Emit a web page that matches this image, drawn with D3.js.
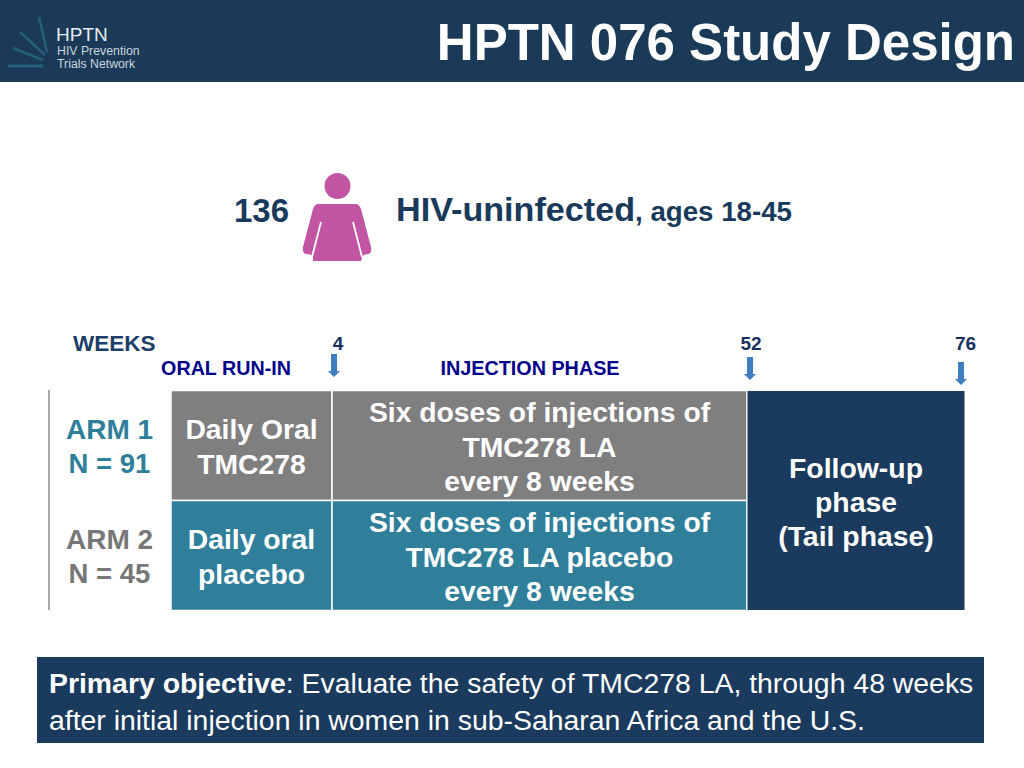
<!DOCTYPE html>
<html>
<head>
<style>
  html, body { margin: 0; padding: 0; background: #fff; }
  svg { display: block; }
  text { font-family: "Liberation Sans", Arial, sans-serif; }
</style>
<script src="https://d3js.org/d3.v7.min.js"></script>
</head>
<body>
<svg id="chart" width="1024" height="768"></svg>
<script>
// study design data
const title = "HPTN 076 Study Design";
const logoLines = ["HIV Prevention", "Trials Network"];
const weekTicks = [4, 52, 76];
const phaseStarts = [0, 4, 52];
const phaseEnds = [4, 52, 76];
const arms = ["ARM 1", "ARM 2"];
const armCounts = ["N = 91", "N = 45"];
const runInText = [["Daily Oral", "TMC278"], ["Daily oral", "placebo"]];
const injectionText = [
  ["Six doses of injections of", "TMC278 LA", "every 8 weeks"],
  ["Six doses of injections of", "TMC278 LA placebo", "every 8 weeks"]
];
const tailText = ["Follow-up", "phase", "(Tail phase)"];

const navy = "#1a3a5c";
const teal = "#2f7f9b";
const grey = "#7f7f7f";
const svg = d3.select("#chart");

// weeks are not to scale on the slide so the axis is piecewise
const weekScale = d3.scaleLinear().domain([0, 4, 52, 76]).range([171, 332, 747, 965]);
const armScale = d3.scaleBand().domain(arms).range([390.5, 610.5]);

function lines(g, arr, x, y, lh, size, fill, weight) {
  g.selectAll(null).data(arr).enter().append("text")
    .attr("x", x).attr("y", (d, i) => y + i * lh)
    .attr("text-anchor", "middle")
    .attr("font-size", size).attr("font-weight", weight || "bold")
    .attr("fill", fill).text(d => d);
}

// header
svg.append("rect").attr("width", 1024).attr("height", 82).attr("fill", "#1b3a57");
svg.append("text").attr("x", 1015).attr("y", 60).attr("text-anchor", "end")
  .attr("font-size", 51).attr("font-weight", "bold").attr("fill", "#fff").text(title);

// logo
const logo = svg.append("g");
[[39, 17, 47, 52, 2.5], [20, 32, 45, 55, 2.5], [13, 48, 43, 60, 2.5], [8, 66, 43, 66, 3]].forEach(r => {
  logo.append("line").attr("x1", r[0]).attr("y1", r[1]).attr("x2", r[2]).attr("y2", r[3])
    .attr("stroke", "#2b7a93").attr("stroke-width", r[4]).attr("opacity", 0.6);
});
logo.append("text").attr("x", 56).attr("y", 41).attr("font-size", 19).attr("fill", "#e4edf2")
  .attr("font-family", "Lato").text("HPTN");
logo.selectAll(null).data(logoLines).enter().append("text")
  .attr("x", 57).attr("y", (d, i) => 55 + i * 13)
  .attr("font-size", 12.3).attr("font-family", "Lato").attr("fill", "#c9d6de").text(d => d);

// 136 women line
svg.append("text").attr("x", 234).attr("y", 222).attr("font-size", 33).attr("font-weight", "bold")
  .attr("fill", navy).text("136");
const person = svg.append("g").attr("fill", "#c254a4");
person.append("circle").attr("cx", 337.5).attr("cy", 186).attr("r", 13);
person.append("path").attr("d",
  "M318,204 Q315,204 313,209 L303,247 Q302,254 307,254 Q311,254 313,257 L313,261 " +
  "L361,261 L362,257 Q364,254 368,254 Q372,254 371,247 L361,209 Q359,204 356,204 Z");
// white slits between arms and body
person.append("path").attr("fill", "none").attr("stroke", "#fff").attr("stroke-width", 1.8)
  .attr("d", "M321,222 L312,257 M353,222 L362,257");
const hiv = svg.append("text").attr("x", 396).attr("y", 221).attr("fill", navy).attr("font-weight", "bold");
hiv.append("tspan").attr("font-size", 34).attr("textLength", 239).attr("lengthAdjust", "spacingAndGlyphs").text("HIV-uninfected");
hiv.append("tspan").attr("font-size", 27).attr("x", 635).attr("textLength", 157).attr("lengthAdjust", "spacingAndGlyphs").text(", ages 18-45");

// week labels and arrows
svg.append("text").attr("x", 73).attr("y", 351).attr("font-size", 22.5).attr("font-weight", "bold")
  .attr("fill", "#1b3f66").text("WEEKS");
const tickX = { 4: 338, 52: 751, 76: 965.5 };
const arrowX = { 4: 334, 52: 750, 76: 961 };
const arrowTop = { 4: 354, 52: 357, 76: 362 };
weekTicks.forEach(w => {
  svg.append("text").attr("x", tickX[w]).attr("y", 350).attr("text-anchor", "middle")
    .attr("font-size", 19).attr("font-weight", "bold").attr("fill", "#16305f").text(w);
  const a = arrowX[w], t = arrowTop[w];
  svg.append("path").attr("fill", "#3f7fc0")
    .attr("d", `M${a - 3},${t} h6 v17 h3 l-6,6 l-6,-6 h3 Z`);
});
svg.append("text").attr("x", 226).attr("y", 375).attr("text-anchor", "middle")
  .attr("font-size", 19.7).attr("font-weight", "bold").attr("fill", "#00008b").text("ORAL RUN-IN");
svg.append("text").attr("x", 530).attr("y", 375).attr("text-anchor", "middle")
  .attr("font-size", 19.8).attr("font-weight", "bold").attr("fill", "#00008b").text("INJECTION PHASE");

// left rule
svg.append("line").attr("x1", 49).attr("x2", 49).attr("y1", 390).attr("y2", 610)
  .attr("stroke", "#a6a6a6").attr("stroke-width", 2);

// arm labels
arms.forEach((arm, i) => {
  const top = armScale(arm);
  const col = i === 0 ? teal : "#777";
  svg.append("text").attr("x", 109.5).attr("y", top + 48).attr("text-anchor", "middle")
    .attr("font-size", 28).attr("font-weight", "bold").attr("fill", col).text(arm);
  svg.append("text").attr("x", 109.5).attr("y", top + 82).attr("text-anchor", "middle")
    .attr("font-size", 27.5).attr("font-weight", "bold").attr("fill", col).text(armCounts[i]);

  // run-in and injection boxes
  [0, 1].forEach(p => {
    svg.append("rect")
      .attr("x", weekScale(phaseStarts[p]))
      .attr("y", top)
      .attr("width", weekScale(phaseEnds[p]) - weekScale(phaseStarts[p]))
      .attr("height", armScale.bandwidth())
      .attr("fill", i === 0 ? grey : teal)
      .attr("stroke", "#fff").attr("stroke-width", 1.5);
  });
  const tx0 = (weekScale(0) + weekScale(4)) / 2;
  const tx1 = (weekScale(4) + weekScale(52)) / 2;
  lines(svg, runInText[i], tx0, top + 48.5, 34.5, 28.3, "#fff");
  lines(svg, injectionText[i], tx1, top + 31.5, 34.5, 28.3, "#fff");
});

// tail phase spans both arms
svg.append("rect")
  .attr("x", weekScale(phaseStarts[2])).attr("y", armScale(arms[0]))
  .attr("width", weekScale(phaseEnds[2]) - weekScale(phaseStarts[2]))
  .attr("height", armScale.bandwidth() * 2)
  .attr("fill", "#1a3a5e").attr("stroke", "#fff").attr("stroke-width", 1);
lines(svg, tailText, 856, 477.5, 34, 28.4, "#fff");

// primary objective box
svg.append("rect").attr("x", 37).attr("y", 657).attr("width", 947).attr("height", 86).attr("fill", "#1a3a5e");
const obj = svg.append("text").attr("x", 49).attr("y", 693).attr("font-size", 28.4).attr("fill", "#fff");
obj.append("tspan").attr("font-weight", "bold").text("Primary objective");
obj.append("tspan").text(": Evaluate the safety of TMC278 LA, through 48 weeks");
svg.append("text").attr("x", 49).attr("y", 730).attr("font-size", 28.4).attr("fill", "#fff")
  .text("after initial injection in women in sub-Saharan Africa and the U.S.");
</script>
</body>
</html>
